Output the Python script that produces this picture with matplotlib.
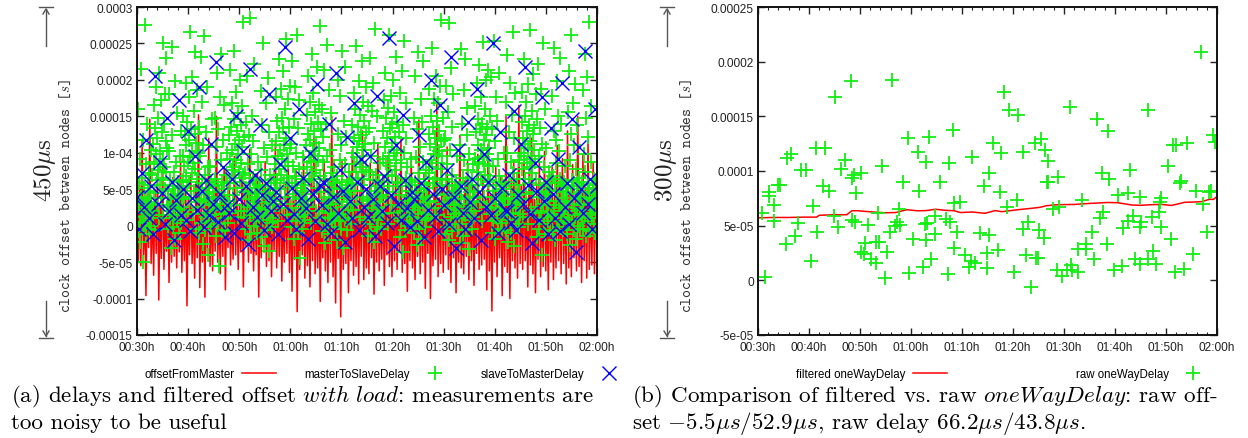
import numpy as np
import matplotlib
matplotlib.use('Agg')
import matplotlib.pyplot as plt
from matplotlib.ticker import FixedLocator, FixedFormatter, MultipleLocator
from matplotlib.lines import Line2D

plt.rcParams['mathtext.fontset'] = 'cm'

# ---- axes ticks / labels ----
time_ticks = [30, 40, 50, 60, 70, 80, 90, 100, 110, 120]
time_labels = ['00:30h', '00:40h', '00:50h', '01:00h', '01:10h', '01:20h',
               '01:30h', '01:40h', '01:50h', '02:00h']
left_yticks = [-0.00015, -0.0001, -5e-05, 0, 5e-05, 1e-04, 0.00015, 0.0002, 0.00025, 0.0003]
left_ylabels = ['-0.00015', '-0.0001', '-5e-05', '0', '5e-05', '1e-04',
                '0.00015', '0.0002', '0.00025', '0.0003']
right_yticks = [-5e-05, 0, 5e-05, 0.0001, 0.00015, 0.0002, 0.00025]
right_ylabels = ['-5e-05', '0', '5e-05', '0.0001', '0.00015', '0.0002', '0.00025']

# ---- (a) with load, values in microseconds, evenly sampled 00:30h..02:00h ----
offset_us = [
    35, -48, 62, -55, 118, -40, 20, -96, 45, -30, 146, -52, 28, -68, 50, -38, 75, -102, 30, -45, 88, -60, 15, -35, 52, -78, 40, -50, 66, -42,
    22, -58, 48, -36, 92, -64, 30, -48, 55, -110, 38, -40, 70, -52, 18, -72, 60, -44, 152, -85, 26, -50, 44, -98, 65, -38, 120, -56, 34, -62,
    48, -35, 150, -50, 28, -66, 58, -42, 80, -88, 36, -30, 62, -54, 20, -46, 95, -40, 42, -60, 30, -36, 70, -84, 45, -28, 55, -50, 105, -38,
    25, -62, 48, -40, 72, -98, 35, -44, 60, -30, 88, -56, 24, -48, 52, -70, 40, -34, 115, -58, 30, -42, 66, -76, 22, -50, 58, -38, 84, -64,
    36, -90, 50, -46, 78, -118, 28, -60, 64, -40, 98, -72, 42, -55, 30, -84, 70, -48, 122, -66, 26, -58, 56, -104, 40, -44, 90, -62, 34, -78,
    60, -50, 150, -70, 32, -106, 74, -45, 40, -125, 88, -60, 28, -52, 66, -92, 44, -48, 104, -68, 36, -56, 58, -80, 48, -42, 130, -74, 30, -58,
    52, -66, 86, -44, 38, -94, 64, -50, 112, -62, 30, -46, 70, -82, 42, -40, 96, -56, 26, -70, 58, -48, 80, -60, 45, -36, 118, -64, 34, -52,
    62, -90, 40, -48, 100, -58, 28, -74, 54, -42, 145, -66, 36, -50, 72, -86, 44, -38, 90, -100, 30, -55, 60, -46, 166, -70, 38, -52, 84, -64,
    46, -40, 108, -60, 32, -78, 70, -44, 52, -92, 38, -50, 124, -58, 28, -66, 62, -42, 88, -74, 40, -48, 56, -82, 34, -38, 98, -60, 44, -54,
    70, -46, 36, -88, 112, -62, 42, -117, 58, -50, 80, -70, 30, -44, 66, -96, 48, -56, 150, -64, 38, -100, 62, -48, 90, -58, 44, -72, 165, -52,
    54, -60, 96, -48, 40, -84, 74, -54, 120, -66, 36, -92, 58, -46, 88, -70, 44, -56, 102, -62, 30, -88, 66, -50, 80, -74, 42, -58, 110, -48,
    60, -66, 92, -52, 38, -80, 130, -58, 46, -70, 84, -44, 36, -62, 150, -56, 40, -78, 98, -48, 52, -72, 118, -60, 44, -54, 86, -66, 62, -50,
]

m2s_us = [
    12, 45, -8, 160, 30, 58, 5, 92, -22, 40, 215, 18, 66, -50, 25, 118, 3, 52, 275, 35, -12, 84, 22, 140, 8, 38, 56, -4, 28, 72, 14, 48, 0, 104, 32, 20,
    70, 112, 20, 165, 88, 45, 134, -6, 98, 190, 62, 120, 30, 76, 148, 10, 210, 84, 56, 102, 172, 38, 128, 66, 250, 92, 14, 140, 80, 180, 50, 116, 230, 74, 26, 106,
    48, -5, 102, 28, 180, 10, 62, -30, 38, 125, 20, 245, 55, -2, 74, 15, 198, 42, -18, 88, 30, 155, 8, 60, 24, 44, -10, 36, 96, 16, 52, 4, 130, 26, 40, 62,
    96, 150, 40, 82, 124, 8, 196, 68, 110, 54, 142, 22, 88, 176, 118, 60, 266, 94, 132, 36, 72, 204, 102, 16, 86, 158, 48, 126, 238, 78, -4, 114, 64, 186, 100, 32,
    26, 135, -10, 50, 95, 232, 34, 4, 170, 58, -25, 110, 18, 44, 260, 70, -6, 128, 36, 12, 190, 52, 80, -40, 30, 6, 46, 22, 82, 60, -2, 38, 14, 146, 54, 28,
    40, 6, 148, 22, 64, -14, 108, 210, 30, 56, 2, 132, 46, -55, 176, 24, 90, 16, 236, 60, -8, 118, 38, 165, 10, 50, 26, -6, 70, 34, 58, 18, 100, 42, 4, 30,
    124, 58, 92, 214, 18, 136, 76, 168, 104, 42, 80, 146, 240, 66, 112, 28, 184, 90, 130, 52, 98, 154, 12, 118, 74, 200, 60, 138, 86, 20, 164, 108, 280, 70, 122, 46,
    20, 72, -4, 142, 48, 26, 205, 10, 84, -20, 124, 36, 58, 285, 14, 98, -12, 150, 44, 28, 116, 66, 222, 0, 52, 32, 6, 62, 16, 40, -10, 88, 24, 56, 12, 46,
    54, 18, 185, -16, 76, 32, 138, 8, 250, 46, -28, 106, 22, 62, 168, 40, -6, 94, 14, 202, 50, 128, -35, 70, 28, 4, 58, 36, -2, 110, 20, 44, 10, 64, 30, 52,
    84, 176, 34, 116, 62, 144, 96, 6, 228, 78, 128, 50, 104, 188, 70, 148, 24, 92, 134, 212, 58, 110, 82, 160, 40, 120, 256, 66, 98, 14, 174, 88, 136, 54, 106, 192,
    30, 112, -2, 58, 226, 16, 82, 44, 146, -18, 68, 190, 24, 100, 6, 262, 52, -10, 134, 36, 78, 172, 12, -45, 40, 56, 20, -4, 64, 28, 94, 8, 48, 34, 60, 14,
    110, 44, 152, 80, 206, 26, 126, 94, 62, 170, 118, 4, 88, 140, 236, 72, 102, 36, 182, 130, 64, 96, 156, 20, 114, 76, 218, 52, 142, 90, 10, 166, 106, 274, 68, 132,
    46, 160, 20, -8, 88, 122, 34, 214, 4, 64, -24, 140, 28, 96, 248, 18, 56, -12, 186, 40, 104, 10, 154, 72, 24, 50, -2, 36, 62, 12, 80, 44, 6, 58, 30, 18,
    14, 68, -20, 126, 200, 38, 6, 90, 52, 178, -4, 110, 26, 240, 60, 16, -30, 144, 42, 84, 218, 8, 122, 50, 32, -6, 56, 22, 44, 74, 10, 36, 62, 2, 28, 48,
    58, 138, 100, 22, 182, 84, 120, 48, 160, 74, 246, 108, 30, 94, 136, 66, 198, 116, 12, 88, 152, 56, 124, 226, 80, 40, 170, 104, 64, 144, 8, 112, 190, 76, 128, 34,
    36, -14, 164, 24, 74, 134, 2, 230, 48, 96, -8, 158, 30, 62, 196, 12, -22, 114, 44, 270, 70, 20, 150, -2, 54, 26, 8, 40, 60, 16, 86, 32, -4, 50, 18, 42,
    92, 16, 130, 172, 60, 108, 210, 38, 86, 148, 120, 70, 2, 162, 96, 262, 54, 134, 82, 178, 28, 114, 68, 140, 200, 46, 100, 156, 18, 122, 76, 232, 90, 142, 60, 104,
    58, 10, 128, 42, -16, 182, 26, 86, 6, 212, 54, -36, 138, 20, 100, 254, 34, -6, 120, 66, 168, 14, 80, 40, 22, 48, 0, 30, 62, 12, 92, 38, 56, 4, 44, 26,
    22, -10, 148, 60, 30, 206, 4, 94, -26, 132, 46, 16, 238, 72, -4, 108, 28, 174, 50, -18, 142, 10, 88, 226, 36, 56, 18, -2, 64, 40, 8, 76, 24, 52, 32, 14,
    126, 72, 188, 34, 112, 90, 150, 10, 244, 80, 136, 58, 174, 98, 24, 120, 66, 206, 108, 42, 144, 86, 168, 14, 102, 130, 54, 192, 78, 116, 282, 62, 96, 148, 30, 118,
    44, 8, 120, -12, 64, 192, 32, 84, -2, 156, 24, 278, 56, -20, 104, 38, 216, 12, 70, -8, 136, 48, 180, 28, 16, 54, 36, 2, 60, 22, 96, 42, -6, 30, 50, 10,
    18, -24, 110, 52, 242, 36, 2, 140, 66, -14, 186, 26, 90, 14, 228, 58, -6, 124, 40, 162, 20, 76, -32, 98, 46, 30, 8, 56, 24, -4, 62, 38, 12, 84, 48, 34,
    48, 164, 92, 128, 20, 196, 74, 110, 146, 56, 220, 88, 32, 132, 104, 176, 64, 6, 140, 94, 252, 118, 40, 84, 160, 70, 124, 200, 26, 98, 136, 60, 214, 106, 82, 150,
    62, 16, 204, 30, -10, 132, 48, 82, 6, 254, 40, -18, 116, 24, 176, 56, 10, 144, -4, 92, 34, 210, 68, 22, 50, 4, 38, 60, 14, -8, 44, 28, 100, 54, 20, 36,
    50, -6, 170, 14, 100, 234, 38, -22, 128, 60, 8, 196, 28, 88, -10, 152, 44, 266, 18, 72, -28, 120, 32, 182, 56, 24, 2, 42, 64, 12, 36, 90, 48, -2, 30, 16,
    100, 36, 142, 78, 184, 120, 12, 96, 228, 64, 150, 112, 44, 170, 86, 130, 2, 106, 194, 58, 138, 80, 268, 116, 22, 92, 158, 72, 126, 46, 208, 104, 134, 18, 88, 180,
    26, 64, -16, 146, 40, 222, 10, 96, -4, 134, 56, 188, 20, -40, 112, 46, 250, 30, 80, 2, 160, 38, -12, 106, 52, 18, 44, 6, 58, 28, 74, 34, -6, 62, 14, 48,
    42, 12, 178, -8, 68, 130, 24, 244, 58, -20, 118, 34, 86, 198, 6, 150, 48, -2, 102, 28, 230, 64, 16, 140, 38, 54, 20, -6, 46, 10, 60, 32, 82, 26, 4, 56,
    34, -12, 156, 52, 20, 212, 4, 90, -26, 126, 44, 262, 62, 8, 168, 30, -6, 110, 54, 194, 14, 78, -18, 138, 40, 24, 58, 0, 36, 66, 16, 46, -4, 28, 50, 10,
    60, 22, 186, -4, 98, 40, 236, 12, 74, -14, 148, 36, 204, 56, 6, 122, 46, 280, 18, -8, 164, 30, 88, 10, 44, 28, 52, 2, 64, 34, -10, 40, 20, 58, 14, 26,
]

s2m_us = [
    40, -5, 72, 25, 118, 10, 55, -12, 205, 30, 88, 45, 2, 148, 20, 60, -20, 35, 172, 15,
    50, 8, 130, -8, 38, 95, 22, 190, 48, -2, 62, 14, 112, 30, 225, 5, 44, 80, -15, 28,
    18, 64, -10, 150, 36, 4, 102, 54, -25, 215, 26, 70, 12, 138, 42, -6, 58, 180, 20, 34,
    46, -12, 85, 30, 245, 8, 120, 52, 16, -4, 160, 38, 66, 24, -18, 100, 44, 6, 195, 56,
    28, 58, 2, 140, -10, 40, 210, 18, 76, 48, -22, 122, 34, 10, 168, 60, -6, 92, 26, 50,
    12, 96, 36, -14, 178, 54, 20, 68, 4, 258, 42, -28, 110, 30, 8, 152, 62, 24, -2, 46,
    36, 6, 124, 58, -16, 88, 22, 200, 44, 12, -8, 166, 50, 28, 76, 2, 232, 40, -30, 104,
    54, 18, -4, 142, 32, 64, 10, 188, 46, -20, 98, 26, 60, 14, 250, 38, -10, 128, 52, 22,
    20, 70, 4, 158, -6, 42, 112, 30, 218, 56, 16, -24, 86, 48, 8, 176, 34, 60, -12, 134,
    44, 10, 92, -8, 196, 26, 58, 2, 146, 38, -36, 108, 50, 18, 240, 30, 64, -4, 160, 55,
]

# ---- (b) filtered vs raw oneWayDelay (minutes, microseconds) ----
filt_min = [30, 33, 36, 39, 41.5, 42, 45, 47.4, 48.4, 49.4, 52.8, 55, 57, 59.2, 61.3, 63, 64.8, 66.8, 68.4,
            69.7, 72, 74.5, 76.5, 77.8, 81, 84.3, 85.3, 86.6, 88.9, 92, 94.1, 98.5, 100.5, 103.3, 105,
            107.2, 109, 111.1, 113.7, 115.5, 117, 118.6, 119.3, 120]
filt_us = [57.2, 57.5, 57.5, 57.8, 57.8, 59.5, 60, 60, 63.6, 63.7, 62.4, 61.8, 62, 64.6, 63.6, 63.8, 65, 64, 63.7,
           62, 62.5, 61.3, 63.8, 62.8, 64.6, 66.2, 66.8, 68.3, 69.2, 69.4, 70.1, 71.2, 71, 68.9, 68.6,
           69.2, 69.5, 68.5, 71.4, 71.6, 72, 74.2, 74, 76.6]

raw_min = [48.2, 56.3, 45.1, 59.4, 63.5, 68.2, 41.3, 43.1, 35.7, 36.5, 61.3, 62.9, 72.0, 67.5, 47.1, 46.3, 38.5,
           39.4, 54.4, 50.2, 48.8, 48.5, 34.3, 33.9, 32.2, 32.2, 42.7, 43.9, 49.3, 58.5, 61.6, 65.7, 74.4, 68.5,
           69.7, 33.1, 40.7, 57.7, 30.8, 33.2, 37.9, 45.0, 48.4, 49.0, 45.6, 51.5, 53.5, 57.3, 56.9, 57.9, 55.9,
           62.7, 63.1, 64.8, 66.8, 67.6, 69.0, 64.8, 63.0, 60.4, 73.6, 37.3, 41.6, 35.4, 51.0, 53.2, 53.7, 55.2,
           50.1, 50.8, 52.2, 53.1, 40.3, 63.9, 62.3, 59.6, 55.0, 67.3, 68.5, 70.5, 71.8, 72.5, 71.4, 31.4,
           116.9, 78.3, 79.3, 81.0, 91.1, 106.5, 96.5, 98.7, 76.1, 77.6, 82.0, 84.4, 85.5, 86.3, 86.9, 111.9,
           111.4, 114.2, 119.2, 119.6, 75.3, 77.4, 80.8, 78.9, 86.6, 86.9, 88.8, 87.9, 89.0, 93.6, 97.4, 98.8,
           103.0, 110.3, 112.7, 112.9, 115.8, 118.4, 118.9, 117.3, 100.5, 102.6, 104.9, 109.1, 108.9, 97.7,
           97.0, 103.6, 102.6, 101.6, 105.1, 104.9, 107.2, 108.6, 109.1, 110.9, 118.0, 115.2, 83.0, 81.9, 85.0,
           86.1, 75.3, 75.0, 77.0, 82.5, 84.6, 84.9, 80.1, 83.5, 88.6, 89.7, 91.4, 91.6, 92.8, 90.5, 92.8, 94.4,
           94.4, 95.5, 95.9, 98.4, 99.9, 101.3, 103.9, 104.9, 106.5, 107.4, 108.0, 111.8, 113.5, 75.0]
raw_us = [182, 183, 167.6, 130, 131, 137.6, 121, 121, 112, 116, 117, 108.6, 113, 107.6, 110, 101.8, 101,
          101, 105, 97.9, 96.3, 94, 87, 87, 80.4, 77, 86.5, 82, 80, 90, 82, 89.6, 86, 71,
          72, 69, 68, 65.7, 61.8, 54.4, 52.3, 59, 55, 53, 49, 51, 62, 53, 50, 50.5, 44.6,
          51.4, 52, 59, 56, 53, 44.3, 42, 36.7, 37.6, 43.7, 40.7, 44.3, 33.3, 34, 35, 35, 26,
          26.3, 23.9, 19.3, 15.6, 17.7, 19.3, 12.5, 7, 2.4, 6.1, 30, 23, 17.7, 15.6, 12.5, 3,
          208.6, 171.8, 155.6, 151.6, 158.7, 155.6, 148, 136.3, 125.9, 116.4, 117.3, 125.6, 129, 118.8, 109, 124,
          123.4, 125.6, 132.6, 126.5, 98, 81.2, 73.5, 66.8, 89.7, 89.7, 94.3, 65.2, 66.8, 73.5, 98, 92.8,
          100.5, 105, 88.8, 90.4, 81.5, 81.2, 82, 69.8, 78.4, 80.2, 76, 75, 71.4, 62.8,
          57, 59, 54.5, 47.8, 53.6, 49, 57.6, 62.2, 48.4, 37.7, 43.8, 23.9, 53, 46.9, 46,
          38.3, 41.3, 25.4, 27.9, 23, 20.8, 20.8, 8, -6.1, 9.2, 4, 13.8, 9.2, 8, 9.2, 29, 28.5,
          33, 43.8, 19.3, 33, 9.2, 13.2, 19.3, 14.7, 19.3, 27, 14.7, 8, 10.7, 11.6]

W, H = 1248, 439
fig = plt.figure(figsize=(W / 100, H / 100), dpi=100)

tick_font = dict(family='Liberation Sans', size=8.6)


def frac(x, y):
    return x / W, 1 - y / H


def style_axes(ax, yticks, ylabels, ylim):
    ax.set_xlim(30, 120)
    ax.set_ylim(*ylim)
    ax.xaxis.set_major_locator(FixedLocator(time_ticks))
    ax.xaxis.set_major_formatter(FixedFormatter(time_labels))
    ax.xaxis.set_minor_locator(MultipleLocator(2))
    ax.yaxis.set_major_locator(FixedLocator(yticks))
    ax.yaxis.set_major_formatter(FixedFormatter(ylabels))
    ax.tick_params(which='both', direction='in', top=True, right=True, color='#222222')
    ax.tick_params(which='major', length=5, width=1.0, pad=4)
    ax.tick_params(axis='y', which='major', pad=3)
    ax.tick_params(which='minor', length=2.5, width=0.8)
    for lab in ax.get_xticklabels() + ax.get_yticklabels():
        lab.set_fontfamily(tick_font['family'])
        lab.set_fontsize(tick_font['size'])
        lab.set_color('#222222')
    for sp in ax.spines.values():
        sp.set_linewidth(1.4)
        sp.set_color('#111111')


def side_label(xc, big):
    # arrows with end bars, big rotated value and axis text
    gray = '#555555'
    for y_tip, y_tail, y_bar in [(10, 47, 8), (337, 302, 339)]:
        x0, yt = frac(xc, y_tip)
        _, ytl = frac(xc, y_tail)
        dy = (-5.0 if y_tip < 100 else 5.0) / H
        fig.add_artist(Line2D([x0, x0], [ytl, yt], transform=fig.transFigure, color=gray, lw=1.0))
        fig.add_artist(Line2D([x0 - 3.0 / W, x0, x0 + 3.0 / W], [yt + dy, yt, yt + dy],
                              transform=fig.transFigure, color=gray, lw=1.0))
        xb0, yb = frac(xc - 7, y_bar)
        xb1, _ = frac(xc + 7, y_bar)
        fig.add_artist(Line2D([xb0, xb1], [yb, yb], transform=fig.transFigure, color=gray, lw=1.0))
    x, y = frac(xc - 1, 170)
    fig.text(x, y, big, rotation=90, ha='center', va='center', fontsize=18,
             family='cmr10', color='#222222')
    x, y = frac(xc + 20, 196)
    fig.text(x, y, r'clock offset between nodes [$s$]', rotation=90, ha='center', va='center',
             fontsize=10.8, family='cmtt10', color='#333333')


# ---------------- panel (a) ----------------
axa = fig.add_axes([137 / W, (H - 336) / H, 460 / W, 328 / H])
t_off = np.linspace(30, 120, len(offset_us))
t_m2s = np.linspace(30, 120, len(m2s_us))
t_s2m = np.linspace(30, 120, len(s2m_us))
axa.plot(t_off, np.array(offset_us) * 1e-6, color='#ff0000', lw=1.1, label='offsetFromMaster')
axa.plot(t_m2s, np.array(m2s_us) * 1e-6, ls='none', marker='+', ms=10, mew=1.3,
         color='#11ee11', label='masterToSlaveDelay')
axa.plot(t_s2m, np.array(s2m_us) * 1e-6, ls='none', marker='x', ms=9.5, mew=1.0,
         color='#0000ff', label='slaveToMasterDelay')
style_axes(axa, left_yticks, left_ylabels, (-0.00015, 0.0003))
lx, ly = frac(385, 375)
axa.legend(loc='center', bbox_to_anchor=(lx, ly), bbox_transform=fig.transFigure, ncol=3,
           markerfirst=False, frameon=False, prop={'family': 'Liberation Sans', 'size': 8.3},
           handlelength=2.95, handletextpad=0.65, columnspacing=2.5, numpoints=1,
           borderpad=0, borderaxespad=0)
side_label(46, r'450$\mu$s')

# ---------------- panel (b) ----------------
axb = fig.add_axes([758 / W, (H - 336) / H, 459 / W, 328 / H])
axb.plot(filt_min, np.array(filt_us) * 1e-6, color='#ff0000', lw=1.1, label='filtered oneWayDelay')
axb.plot(raw_min, np.array(raw_us) * 1e-6, ls='none', marker='+', ms=10, mew=1.3,
         color='#11ee11', label='raw oneWayDelay')
style_axes(axb, right_yticks, right_ylabels, (-5e-05, 0.00025))
lx, ly = frac(1003, 375)
axb.legend(loc='center', bbox_to_anchor=(lx, ly), bbox_transform=fig.transFigure, ncol=2,
           markerfirst=False, frameon=False, prop={'family': 'Liberation Sans', 'size': 8.3},
           handlelength=2.9, handletextpad=0.65, columnspacing=11.2, numpoints=1,
           borderpad=0, borderaxespad=0)
side_label(667, r'300$\mu$s')

# ---------------- captions ----------------
cap = dict(family='cmr10', fontsize=16.6, va='baseline', ha='left', color='black')
fig.text(*frac(11, 402.5), r'(a) delays and filtered offset $\it{with\ load}$: measurements are', **cap)
fig.text(*frac(11, 429.5), 'too noisy to be useful', **cap)
fig.text(*frac(632, 402.5), r'(b) Comparison of filtered vs. raw $oneWayDelay$: raw off-', **cap)
fig.text(*frac(632, 429.5), r'set $-5.5\mu s/52.9\mu s$, raw delay $66.2\mu s/43.8\mu s$.', **cap)

fig.savefig('out.png', dpi=100)
